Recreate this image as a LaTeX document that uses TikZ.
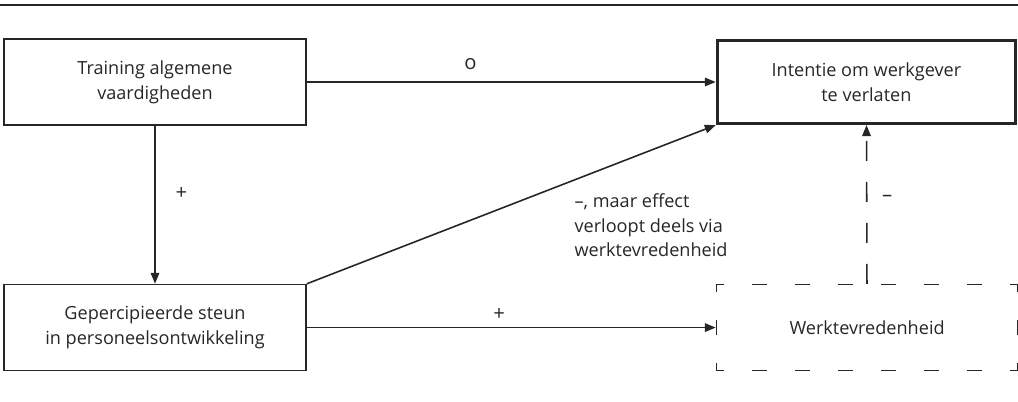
\documentclass[tikz,border=0pt]{standalone}
\usepackage{fontspec}
\setmainfont{Open Sans}
\usepackage{xcolor}
\usepackage{tikz}
\usetikzlibrary{arrows.meta,positioning}
\definecolor{ink}{gray}{0.15}
\tikzset{
    factor/.style={rectangle, draw=ink, line width=0.9pt, minimum width=6.04cm, minimum height=1.72cm, align=center, text=ink, font=\fontsize{10.3}{14}\selectfont},
    outcome/.style={factor, line width=1.8pt, minimum width=5.96cm, minimum height=1.66cm},
    mediator/.style={factor, minimum width=6.02cm, dash pattern=on 0.3cm off 0.56cm, dash phase=0.15cm},
    effect/.style={-{Triangle[length=2.2mm,width=1.7mm]}, draw=ink, line width=0.9pt},
    sign/.style={text=ink, font=\fontsize{11.5}{14}\selectfont},
    rule/.style={draw=ink, line width=1.2pt},
}

\begin{document}
\begin{tikzpicture}[node distance=3.16cm and 8.18cm]
    \useasboundingbox (-3.1,-6.38) rectangle (17.26,1.64);
    \draw[rule] (-3.1,1.54) -- (17.26,1.54);

    \node[factor] (training) {Training algemene \\ vaardigheden};
    \node[factor, below=of training] (steun) {Gepercipieerde steun \\ in personeelsontwikkeling};
    \node[outcome, right=of training] (intentie) {Intentie om werkgever \\ te verlaten};
    \node[mediator, right=of steun] (tevreden) {Werktevredenheid};

    \draw[effect] (training) -- node[sign, pos=0.4, above=3pt] {o} (intentie);
    \draw[effect] (training) -- node[sign, pos=0.43, right=8pt] {+} (steun);
    \draw[effect] (steun) -- node[sign, pos=0.47, above=0pt] {+} (tevreden);
    \draw[effect] (steun.north east) -- node[factor, draw=none, minimum width=0pt, minimum height=0pt, pos=0.64, anchor=north west, align=left, inner sep=1pt, xshift=2pt, yshift=-5pt] {--, maar effect \\ verloopt deels via \\ werktevredenheid} (intentie.south west);
    \draw[effect, dash pattern=on 0.4cm off 0.42cm] (tevreden) -- node[sign, pos=0.54, right=5pt] {--} (intentie);
\end{tikzpicture}
\end{document}
